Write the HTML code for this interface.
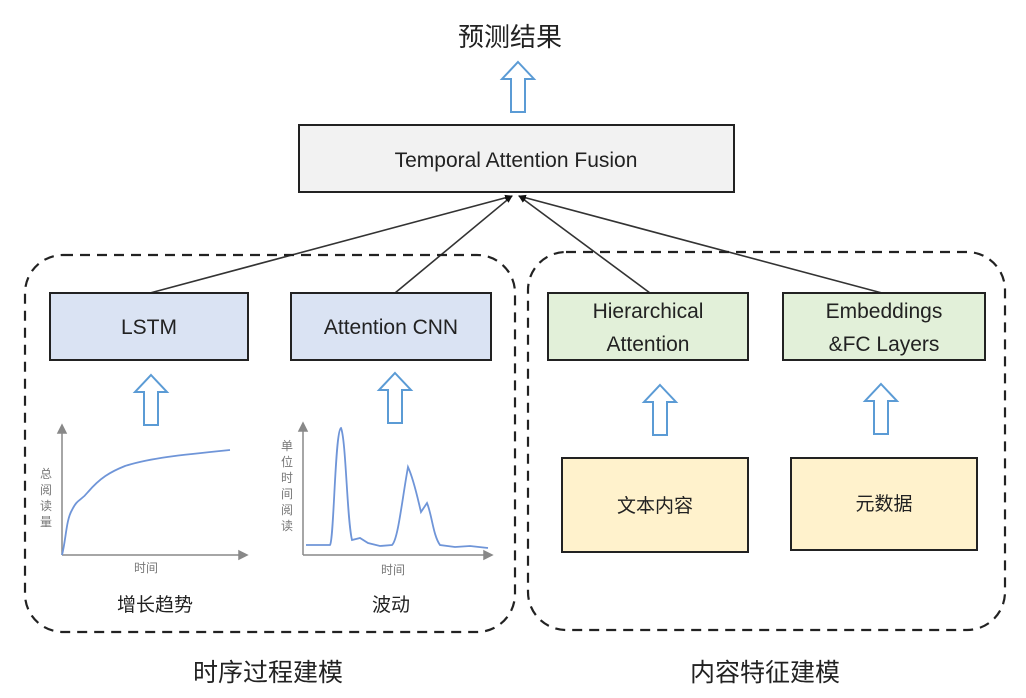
<!DOCTYPE html>
<html><head><meta charset="utf-8"><style>
html,body{margin:0;padding:0;background:#fff;}
svg{display:block;font-family:"Liberation Sans","Noto Sans CJK SC",sans-serif;}
</style></head><body>
<svg width="1026" height="698" viewBox="0 0 1026 698" xmlns="http://www.w3.org/2000/svg">
<defs>
<marker id="ah" markerWidth="8" markerHeight="8" refX="7" refY="4" orient="auto" markerUnits="userSpaceOnUse"><path d="M0,1 L8,4 L0,7 z" fill="#111"/></marker>
<g id="harrow"><path d="M0,-25 L16,-8 L7,-8 L7,25 L-7,25 L-7,-8 L-16,-8 Z" fill="#fff" stroke="#5b9bd5" stroke-width="2"/></g>
</defs>
<text x="510" y="46" font-size="26" text-anchor="middle" fill="#222">预测结果</text>
<use href="#harrow" x="518" y="87"/>
<rect x="299" y="125" width="435" height="67" fill="#f2f2f2" stroke="#222" stroke-width="2"/>
<text x="516" y="167" font-size="21" text-anchor="middle" fill="#222">Temporal Attention Fusion</text>
<g stroke="#333" stroke-width="1.6" fill="none">
<line x1="150" y1="293" x2="512" y2="196" marker-end="url(#ah)"/>
<line x1="395" y1="293" x2="512" y2="196" marker-end="url(#ah)"/>
<line x1="650" y1="293" x2="519" y2="196" marker-end="url(#ah)"/>
<line x1="882" y1="293" x2="519" y2="196" marker-end="url(#ah)"/>
</g>
<rect x="25" y="255" width="490" height="377" rx="38" fill="none" stroke="#222" stroke-width="2.2" stroke-dasharray="10,7"/>
<rect x="528" y="252" width="477" height="378" rx="38" fill="none" stroke="#222" stroke-width="2.2" stroke-dasharray="10,7"/>
<rect x="50" y="293" width="198" height="67" fill="#dae3f3" stroke="#222" stroke-width="2"/>
<text x="149" y="334" font-size="21" text-anchor="middle" fill="#222">LSTM</text>
<rect x="291" y="293" width="200" height="67" fill="#dae3f3" stroke="#222" stroke-width="2"/>
<text x="391" y="334" font-size="21" text-anchor="middle" fill="#222">Attention CNN</text>
<rect x="548" y="293" width="200" height="67" fill="#e2f0d9" stroke="#222" stroke-width="2"/>
<text x="648" y="318" font-size="21" text-anchor="middle" fill="#222">Hierarchical</text>
<text x="648" y="351" font-size="21" text-anchor="middle" fill="#222">Attention</text>
<rect x="783" y="293" width="202" height="67" fill="#e2f0d9" stroke="#222" stroke-width="2"/>
<text x="884" y="318" font-size="21" text-anchor="middle" fill="#222">Embeddings</text>
<text x="884" y="351" font-size="21" text-anchor="middle" fill="#222">&amp;FC Layers</text>
<use href="#harrow" x="151" y="400"/>
<use href="#harrow" x="395" y="398"/>
<use href="#harrow" x="660" y="410"/>
<use href="#harrow" x="881" y="409"/>
<rect x="562" y="458" width="186" height="94" fill="#fff2cc" stroke="#222" stroke-width="2"/>
<text x="655" y="512" font-size="19" text-anchor="middle" fill="#222">文本内容</text>
<rect x="791" y="458" width="186" height="92" fill="#fff2cc" stroke="#222" stroke-width="2"/>
<text x="884" y="510" font-size="19" text-anchor="middle" fill="#222">元数据</text>
<!-- left chart -->
<g stroke="#888" stroke-width="1.5" fill="#888">
<line x1="62" y1="555" x2="62" y2="432"/><path d="M58,433 L62,425 L66,433 Z"/>
<line x1="62" y1="555" x2="240" y2="555"/><path d="M239,551 L247,555 L239,559 Z"/>
<line x1="303" y1="555" x2="303" y2="430"/><path d="M299,431 L303,423 L307,431 Z"/>
<line x1="303" y1="555" x2="485" y2="555"/><path d="M484,551 L492,555 L484,559 Z"/>
</g>
<path d="M62,555 C66,540 66,520 72,510 C78,498 80,502 88,492 C100,478 110,472 125,466 C150,458 180,455 230,450" fill="none" stroke="#6f95d8" stroke-width="1.8"/>
<path d="M306,545 L330,545 C334,540 335,430 341,428 C346,440 347,520 352,540 L360,538 L368,543 L380,546 L392,545 C398,540 402,500 408,467 C414,480 418,500 421,512 L427,503 C432,515 433,535 440,545 L455,547 L470,546 L488,548" fill="none" stroke="#6f95d8" stroke-width="1.8"/>
<g font-size="12" fill="#777" text-anchor="middle">
<text x="46" y="478">总</text><text x="46" y="494">阅</text><text x="46" y="510">读</text><text x="46" y="526">量</text>
<text x="287" y="450">单</text><text x="287" y="466">位</text><text x="287" y="482">时</text><text x="287" y="498">间</text><text x="287" y="514">阅</text><text x="287" y="530">读</text>
<text x="146" y="572">时间</text><text x="393" y="574">时间</text>
</g>
<text x="155" y="611" font-size="19" text-anchor="middle" fill="#222">增长趋势</text>
<text x="391" y="611" font-size="19" text-anchor="middle" fill="#222">波动</text>
<text x="268" y="681" font-size="25" text-anchor="middle" fill="#222">时序过程建模</text>
<text x="765" y="681" font-size="25" text-anchor="middle" fill="#222">内容特征建模</text>
</svg>
</body></html>
